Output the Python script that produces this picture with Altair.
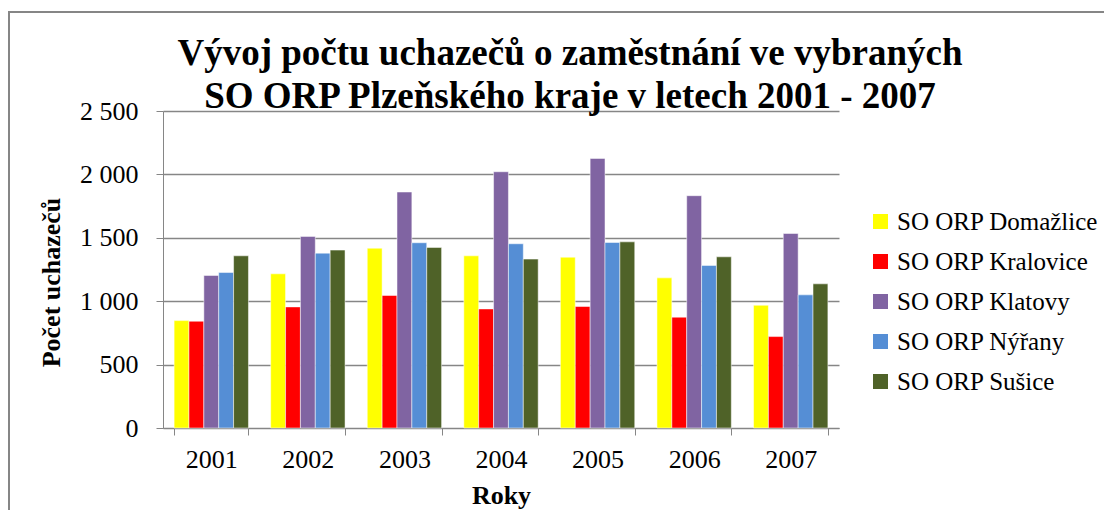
import altair as alt
import pandas as pd

years = ["2001", "2002", "2003", "2004", "2005", "2006", "2007"]
series = ["SO ORP Domažlice", "SO ORP Kralovice", "SO ORP Klatovy", "SO ORP Nýřany", "SO ORP Sušice"]
domazlice = [847, 1216, 1418, 1358, 1347, 1184, 968]
kralovice = [842, 955, 1045, 939, 958, 874, 721]
klatovy = [1203, 1511, 1861, 2021, 2126, 1832, 1534]
nyrany = [1226, 1379, 1461, 1453, 1463, 1282, 1050]
susice = [1358, 1403, 1424, 1332, 1468, 1350, 1137]
colors = ["#FFFF00", "#FF0000", "#8064A2", "#558ED5", "#4F6228"]
title_lines = ["Vývoj počtu uchazečů o zaměstnání ve vybraných",
               "SO ORP Plzeňského kraje v letech 2001 - 2007"]

rows = []
for s, vals in zip(series, [domazlice, kralovice, klatovy, nyrany, susice]):
    for y, v in zip(years, vals):
        rows.append({"Rok": y, "Série": s, "Počet": v})
df = pd.DataFrame(rows)

FONT = "Liberation Serif"
GRAY = "#868686"

bars = alt.Chart(df).mark_bar(stroke="white", strokeWidth=0.5).encode(
    x=alt.X("Rok:N", sort=years,
            scale=alt.Scale(paddingInner=0.23, paddingOuter=0.115),
            axis=alt.Axis(title="Roky", labelAngle=0, tickBand="extent",
                          tickSize=7, tickColor=GRAY, domainColor=GRAY,
                          labelFontSize=26, labelPadding=11, labelFont=FONT,
                          labelColor="black", titleFont=FONT, titleFontSize=26,
                          titleFontWeight="bold", titleColor="black", titlePadding=10)),
    xOffset=alt.XOffset("Série:N", sort=series),
    y=alt.Y("Počet:Q", scale=alt.Scale(domain=[0, 2500]),
            axis=alt.Axis(title="Počet uchazečů", values=[0, 500, 1000, 1500, 2000, 2500],
                          labelExpr="replace(format(datum.value, ','), ',', ' ')",
                          tickSize=7, tickColor=GRAY, domainColor=GRAY,
                          gridColor=GRAY, gridWidth=1.5,
                          labelFontSize=26, labelPadding=18, labelFont=FONT,
                          labelColor="black", titleFont=FONT, titleFontSize=26,
                          titleFontWeight="bold", titleColor="black",
                          titleX=-112, titleY=171, titleBaseline="middle", titleAlign="center")),
    color=alt.Color("Série:N", sort=series,
                    scale=alt.Scale(domain=series, range=colors),
                    legend=alt.Legend(title=None, orient="none", legendX=705, legendY=98,
                                      symbolType="square", symbolSize=225, symbolStrokeWidth=0,
                                      labelFont=FONT, labelFontSize=25, labelColor="black",
                                      labelLimit=400, rowPadding=14, labelOffset=4)),
)

border = alt.Chart(pd.DataFrame({"a": [0]})).mark_rect(
    fill=None, stroke=GRAY, strokeWidth=2, clip=False
).encode(x=alt.value(-154), x2=alt.value(1100), y=alt.value(-99), y2=alt.value(600))

title = alt.Chart(pd.DataFrame({"a": [0]})).mark_text(
    text=title_lines, font=FONT, fontSize=37, fontWeight="bold", color="black",
    align="center", baseline="alphabetic", lineHeight=43
).encode(x=alt.value(407), y=alt.value(-46))

chart = alt.layer(border, bars, title).properties(
    width=676, height=317,
    autosize=alt.AutoSizeParams(type="none"),
    padding={"left": 155, "top": 103, "right": 265, "bottom": 82},
).configure(font=FONT).configure_view(stroke=None)

chart.save("out.html", embed_options={"renderer": "svg", "actions": False})
